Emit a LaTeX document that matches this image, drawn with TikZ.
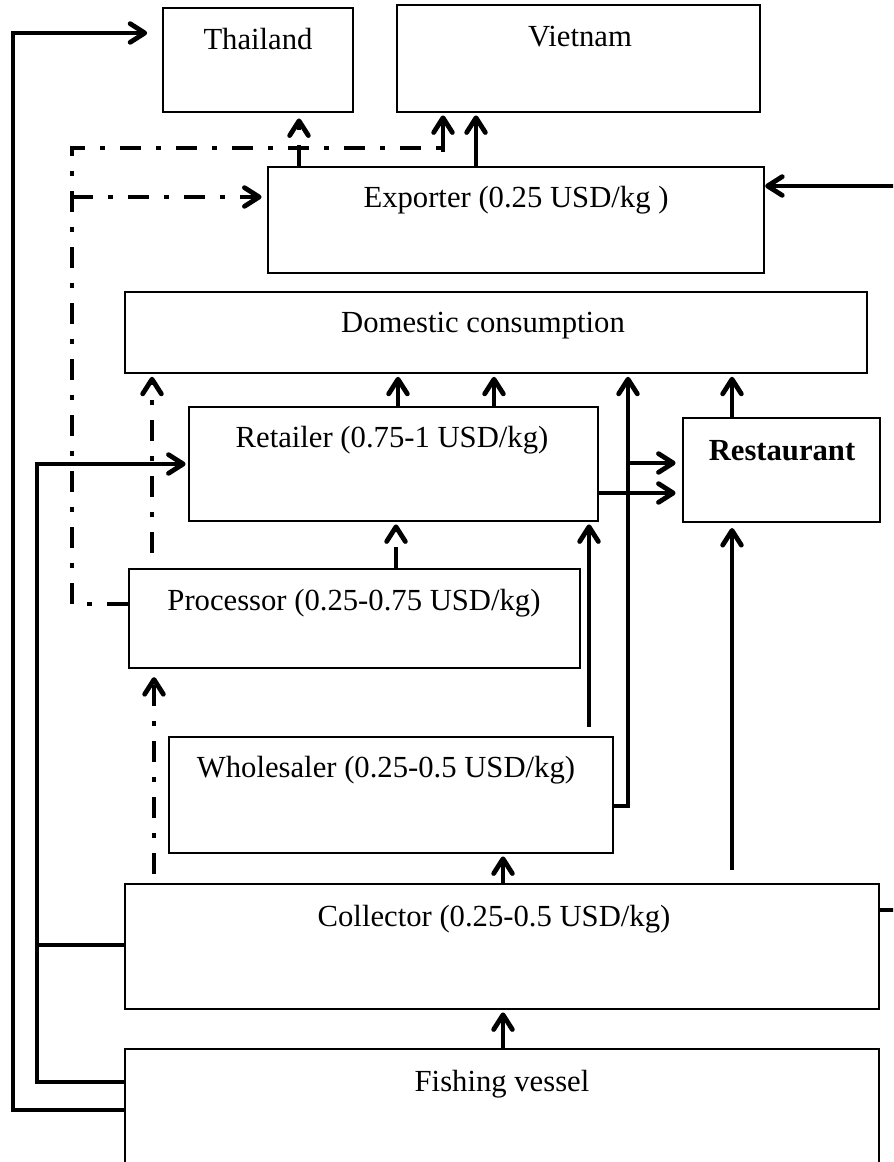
\documentclass[tikz,border=0pt]{standalone}
\usepackage{fontspec}
\setmainfont{Liberation Serif}
\usetikzlibrary{arrows.meta,fit}

\begin{document}
\begin{tikzpicture}[x=0.75pt,y=-0.75pt,
  txt/.style={font=\fontsize{23}{27}\selectfont, anchor=base, inner sep=0pt},
  boxthick/.style={draw, line width=1.7pt, inner sep=0pt},
  boxthin/.style={draw, line width=1.1pt, inner sep=0pt},
  link/.style={line width=3.6pt},
  tip/.style={-{Straight Barb[length=11pt,width=14pt,round]}, shorten >=2pt},
  flow/.style={link, tip},
  dashdot/.style={line width=3.6pt, dash pattern=on 16pt off 11pt on 4pt off 11pt}
]
% page area; the right and bottom edges cut through the outer loop and the last box
\clip (0,0) rectangle (893,1162);

% ---- boxes ----
\node[boxthick, fit={(163,8) (353,112)}]   (thai) {};
\node[boxthin,  fit={(397,5) (760,112)}]   (viet) {};
\node[boxthick, fit={(268,167) (764,273)}] (expo) {};
\node[boxthick, fit={(125,292) (867,373)}] (dom)  {};
\node[boxthin,  fit={(189,407) (598,521)}] (ret)  {};
\node[boxthin,  fit={(683,418) (880,522)}] (rest) {};
\node[boxthick, fit={(129,569) (580,668)}] (proc) {};
\node[boxthin,  fit={(169,737) (613,853)}] (whol) {};
\node[boxthin,  fit={(125,884) (879,1009)}] (coll) {};
\node[boxthin,  fit={(125,1049) (879,1200)}] (fish) {};

% ---- labels ----
\node[txt] (thai-t) at (258,50)  {Thailand};
\node[txt] (viet-t) at (580,47)  {Vietnam};
\node[txt] (expo-t) at (516,208) {Exporter (0.25 USD/kg )};
\node[txt] (dom-t)  at (483,332) {Domestic consumption};
\node[txt] (ret-t)  at (392,447) {Retailer (0.75-1 USD/kg)};
\node[txt] (rest-t) at (782,460) {\bfseries Restaurant};
\node[txt] (proc-t) at (354,610) {Processor (0.25-0.75 USD/kg)};
\node[txt] (whol-t) at (386,777) {Wholesaler (0.25-0.5 USD/kg)};
\node[txt] (coll-t) at (494,926) {Collector (0.25-0.5 USD/kg)};
\node[txt] (fish-t) at (502,1091) {Fishing vessel};

% ---- routing columns and rows ----
\coordinate (xOut) at (13,0);
\coordinate (xIn)  at (37,0);
\coordinate (xDD)  at (72,0);
\coordinate (xPD)  at (152,0);
\coordinate (xCP)  at (154,0);
\coordinate (xTh)  at (299,0);
\coordinate (xPR)  at (396,0);
\coordinate (xRD1) at (398,0);
\coordinate (xV1)  at (443,0);
\coordinate (xV2)  at (476,0);
\coordinate (xRD2) at (494,0);
\coordinate (xCW)  at (503,0);
\coordinate (xWR)  at (589,0);
\coordinate (xWD)  at (628,0);
\coordinate (xRs)  at (732,0);
\coordinate (xRt)  at (910,0);

\coordinate (yTh)   at (0,33);
\coordinate (yDD)   at (0,148);
\coordinate (yV1)   at (0,152);
\coordinate (yExpR) at (0,186);
\coordinate (yExpL) at (0,197);
\coordinate (yRet)  at (0,464);
\coordinate (yB1)   at (0,463);
\coordinate (yB2)   at (0,493);
\coordinate (yProc) at (0,604);
\coordinate (yW)    at (0,806);
\coordinate (yCR)   at (0,910);
\coordinate (yColl) at (0,945);
\coordinate (yFIn)  at (0,1082);
\coordinate (yFOut) at (0,1110);

% ---- left-hand feeders ----
\draw[flow, shorten >=11pt] (fish.west |- yFOut) -| (xOut |- yTh) -- (thai.west |- yTh);
\draw[flow] (fish.west |- yFIn) -| (xIn |- yRet) -- (ret.west |- yRet);
\draw[link] (coll.west |- yColl) -- (xIn |- yColl);

% ---- processor export route (dash-dot) ----
\draw[dashdot] (proc.west |- yProc) -| (xDD |- yDD) -- (xV1 |- yDD);
\draw[flow] (xV1 |- yV1) -- (xV1 |- viet.south);
\draw[dashdot, tip, shorten >=4pt] (xDD |- yExpL) -- (expo.west |- yExpL);
\draw[dashdot, tip, shorten >=4pt] (xTh |- expo.north) -- (xTh |- thai.south);

% ---- exporter ----
\draw[flow] (xV2 |- expo.north) -- (xV2 |- viet.south);
\draw[flow, shorten >=0pt] (coll.east |- yCR) -| (xRt |- yExpR) -- (expo.east |- yExpR);

% ---- into domestic consumption ----
\draw[dashdot, tip, shorten <=11pt] (xPD |- proc.north) -- (xPD |- dom.south);
\draw[flow] (xRD1 |- ret.north) -- (xRD1 |- dom.south);
\draw[flow] (xRD2 |- ret.north) -- (xRD2 |- dom.south);
\draw[flow] (whol.east |- yW) -| (xWD |- dom.south);
\draw[flow] (xRs |- rest.north) -- (xRs |- dom.south);

% ---- into restaurant ----
\draw[flow, shorten >=5pt] (xWD |- yB1) -- (rest.west |- yB1);
\draw[flow, shorten >=5pt] (ret.east |- yB2) -- (rest.west |- yB2);
\draw[flow, shorten <=10pt, shorten >=4pt] (xRs |- coll.north) -- (xRs |- rest.south);

% ---- into retailer ----
\draw[dashdot, tip] (xPR |- proc.north) -- (xPR |- ret.south);
\draw[flow, shorten <=7pt] (xWR |- whol.north) -- (xWR |- ret.south);

% ---- from collector and vessel ----
\draw[dashdot, tip, shorten <=7pt, shorten >=6pt] (xCP |- coll.north) -- (xCP |- proc.south);
\draw[flow] (xCW |- coll.north) -- (xCW |- whol.south);
\draw[flow] (xCW |- fish.north) -- (xCW |- coll.south);
\end{tikzpicture}
\end{document}
